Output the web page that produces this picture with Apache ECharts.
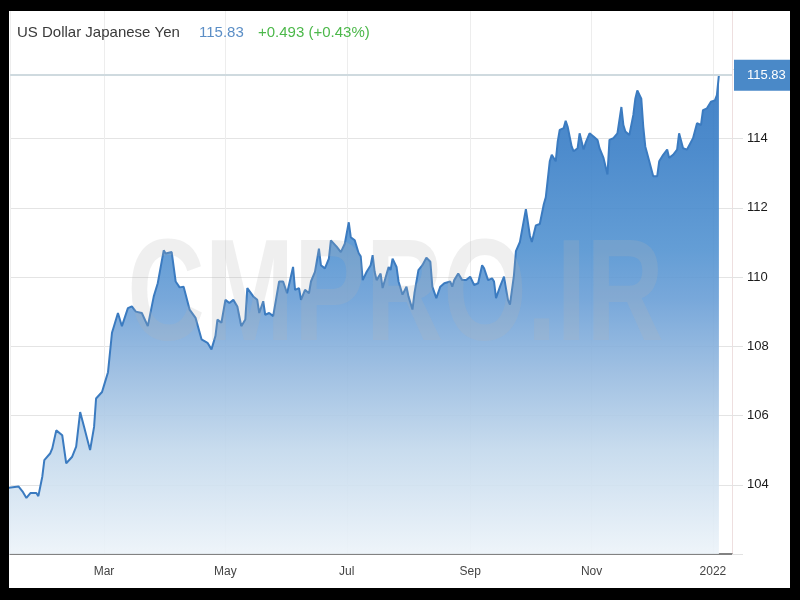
<!DOCTYPE html>
<html>
<head>
<meta charset="utf-8">
<script src="https://cdn.jsdelivr.net/npm/echarts@6/dist/echarts.min.js"></script>
<style>
  html, body { margin: 0; padding: 0; background: #000; }
  #chart { width: 800px; height: 600px; }
</style>
</head>
<body>
<div id="chart"></div>
<script>
// ---- data ----
const dates = [
  '2021-01-12','2021-01-17','2021-01-19','2021-01-21','2021-01-23','2021-01-24','2021-01-26','2021-01-27','2021-01-29','2021-01-30',
  '2021-02-02','2021-02-03','2021-02-05','2021-02-08','2021-02-10','2021-02-13','2021-02-15','2021-02-17','2021-02-19','2021-02-22',
  '2021-02-24','2021-02-25','2021-02-28','2021-03-01','2021-03-03','2021-03-05','2021-03-06','2021-03-08','2021-03-10','2021-03-11',
  '2021-03-13','2021-03-15','2021-03-17','2021-03-20','2021-03-23','2021-03-26','2021-03-28','2021-03-31','2021-04-01','2021-04-04',
  '2021-04-06','2021-04-08','2021-04-10','2021-04-13','2021-04-16','2021-04-17','2021-04-19','2021-04-22','2021-04-24','2021-04-26',
  '2021-04-27','2021-04-29','2021-05-01','2021-05-03','2021-05-05','2021-05-07','2021-05-09','2021-05-11','2021-05-12','2021-05-15',
  '2021-05-17','2021-05-18','2021-05-20','2021-05-21','2021-05-23','2021-05-25','2021-05-28','2021-05-30','2021-06-01','2021-06-02',
  '2021-06-04','2021-06-05','2021-06-07','2021-06-08','2021-06-10','2021-06-12','2021-06-13','2021-06-15','2021-06-17','2021-06-18',
  '2021-06-20','2021-06-22','2021-06-23','2021-06-26','2021-06-28','2021-06-30','2021-07-02','2021-07-03','2021-07-05','2021-07-07',
  '2021-07-08','2021-07-09','2021-07-11','2021-07-13','2021-07-14','2021-07-15','2021-07-16','2021-07-18','2021-07-19','2021-07-20',
  '2021-07-22','2021-07-23','2021-07-24','2021-07-26','2021-07-27','2021-07-29','2021-07-31','2021-08-01','2021-08-03','2021-08-04',
  '2021-08-06','2021-08-08','2021-08-10','2021-08-12','2021-08-13','2021-08-15','2021-08-17','2021-08-19','2021-08-22','2021-08-23',
  '2021-08-24','2021-08-26','2021-08-28','2021-08-30','2021-09-01','2021-09-03','2021-09-05','2021-09-07','2021-09-08','2021-09-10',
  '2021-09-12','2021-09-13','2021-09-14','2021-09-16','2021-09-18','2021-09-20','2021-09-21','2021-09-23','2021-09-24','2021-09-26',
  '2021-09-29','2021-10-01','2021-10-02','2021-10-04','2021-10-06','2021-10-08','2021-10-09','2021-10-11','2021-10-12','2021-10-14',
  '2021-10-15','2021-10-16','2021-10-18','2021-10-19','2021-10-20','2021-10-22','2021-10-23','2021-10-25','2021-10-26','2021-10-28',
  '2021-10-29','2021-10-31','2021-11-02','2021-11-04','2021-11-05','2021-11-07','2021-11-09','2021-11-10','2021-11-12','2021-11-14',
  '2021-11-16','2021-11-17','2021-11-18','2021-11-20','2021-11-22','2021-11-23','2021-11-24','2021-11-26','2021-11-27','2021-11-28',
  '2021-11-29','2021-11-30','2021-12-02','2021-12-04','2021-12-05','2021-12-07','2021-12-09','2021-12-10','2021-12-12','2021-12-14',
  '2021-12-15','2021-12-17','2021-12-19','2021-12-20','2021-12-22','2021-12-24','2021-12-26','2021-12-27','2021-12-29','2021-12-31',
  '2022-01-02','2022-01-03','2022-01-04'
];
const rates = [
  103.91,103.95,103.81,103.62,103.76,103.81,103.76,103.67,104.24,104.71,
  104.91,105.05,105.57,105.43,104.62,104.81,105.10,106.10,105.67,105.00,
  105.67,106.49,106.68,106.87,107.25,108.39,108.58,108.96,108.58,108.53,
  109.10,109.15,109.00,108.96,108.58,109.44,109.82,110.77,110.68,110.72,
  109.87,109.70,109.72,109.06,108.82,108.77,108.20,108.10,107.91,108.30,
  108.77,108.68,109.34,109.25,109.34,109.15,108.58,108.77,109.68,109.44,
  109.34,108.96,109.30,108.91,108.96,108.87,109.87,109.87,109.53,109.58,
  110.29,109.63,109.68,109.34,109.63,109.53,109.87,110.15,110.82,110.34,
  110.25,110.53,111.06,110.87,110.72,110.96,111.58,111.15,111.06,110.68,
  110.60,109.91,110.15,110.34,110.63,110.15,109.91,110.10,109.68,109.63,
  110.29,110.20,110.53,110.29,109.87,109.49,109.72,109.44,109.06,109.53,
  110.20,110.34,110.56,110.44,109.72,109.39,109.72,109.82,109.87,109.72,
  109.91,110.10,109.91,109.91,110.01,109.77,109.82,110.34,110.25,109.91,
  109.96,109.87,109.39,109.72,110.01,109.34,109.20,110.05,110.75,111.01,
  111.96,111.20,111.01,111.49,111.53,112.10,112.30,113.34,113.53,113.34,
  113.91,114.25,114.30,114.51,114.34,113.77,113.63,113.72,114.15,113.68,
  113.87,114.15,114.06,113.96,113.72,113.44,112.96,113.96,114.01,114.15,
  114.91,114.39,114.20,114.10,114.68,115.15,115.39,115.15,114.34,113.77,
  113.72,113.34,112.91,112.91,113.34,113.53,113.68,113.44,113.53,113.68,
  114.15,113.72,113.68,113.68,114.01,114.44,114.39,114.82,114.87,115.06,
  115.10,115.25,115.83
];
const yTickLabels = [104, 106, 108, 110, 112, 114];
const monthLabels = ['Jan','Feb','Mar','Apr','May','Jun','Jul','Aug','Sep','Oct','Nov','Dec'];
const titleName = 'US Dollar Japanese Yen';
const lastPrice = 115.83;
const changeText = '+0.493 (+0.43%)';
const watermark = 'CMPRO.IR';

// ---- chart ----
const FONT = '"Liberation Sans", Arial, sans-serif';
const chart = echarts.init(document.getElementById('chart'), null, { renderer: 'canvas' });
const seriesData = dates.map((d, i) => [d, rates[i]]);

const Y_MIN = 102, Y_MAX = 118, Y_INT = 2;
const splitColors = [];
for (let v = Y_MIN; v <= Y_MAX; v += Y_INT) {
  splitColors.push(yTickLabels.indexOf(v) >= 0 ? '#e4e4e4' : 'rgba(0,0,0,0)');
}

const option = {
  animation: false,
  backgroundColor: '#ffffff',
  textStyle: { fontFamily: FONT },
  grid: { left: 10, right: 68, top: -2, bottom: 46 },
  xAxis: {
    type: 'time',
    min: '2021-01-12 18:00:00',
    max: '2022-01-10 14:00:00',
    splitNumber: 5,
    axisLine: { show: true, lineStyle: { color: '#5a5a5a', width: 1.5 } },
    axisTick: { show: false },
    axisLabel: {
      color: '#444', fontSize: 12, fontFamily: FONT, margin: 12,
      showMinLabel: false, showMaxLabel: false,
      formatter: function (val) {
        const d = new Date(val);
        return d.getMonth() === 0 ? String(d.getFullYear()) : monthLabels[d.getMonth()];
      }
    },
    splitLine: { show: true, lineStyle: { color: '#ededed', width: 1 } }
  },
  yAxis: {
    type: 'value',
    position: 'right',
    min: Y_MIN, max: Y_MAX, interval: Y_INT,
    axisLine: { show: true, lineStyle: { color: '#eedfdf', width: 1 } },
    axisTick: { show: true, length: 11, lineStyle: { color: '#e2e2e2' } },
    axisLabel: {
      color: '#1a1a1a', fontSize: 13, fontFamily: FONT, margin: 15,
      formatter: function (v) { return yTickLabels.indexOf(v) >= 0 ? String(v) : ''; }
    },
    splitLine: { show: true, lineStyle: { color: splitColors, width: 1 } }
  },
  series: [{
    type: 'line',
    data: seriesData,
    symbol: 'none',
    showSymbol: false,
    clip: true,
    lineStyle: { color: '#3b7bc0', width: 2 },
    itemStyle: { color: '#3b7bc0' },
    areaStyle: {
      opacity: 1,
      color: new echarts.graphic.LinearGradient(0, 73, 0, 553, [
        { offset: 0, color: 'rgba(47,116,192,0.9)' },
        { offset: 0.16, color: 'rgba(58,127,199,0.9)' },
        { offset: 0.37, color: 'rgba(83,147,209,0.9)' },
        { offset: 0.47, color: 'rgba(105,158,214,0.9)' },
        { offset: 0.62, color: 'rgba(149,185,223,0.9)' },
        { offset: 0.785, color: 'rgba(194,216,236,0.9)' },
        { offset: 1, color: 'rgba(236,243,249,0.9)' }
      ], true)
    },
    markLine: {
      silent: true,
      symbol: ['none', 'none'],
      lineStyle: { color: '#cfdadf', width: 2, type: 'solid' },
      label: {
        show: true,
        position: 'end',
        distance: 2,
        formatter: function () { return lastPrice.toFixed(2); },
        backgroundColor: '#4a89c8',
        color: '#ffffff',
        fontSize: 13,
        fontFamily: FONT,
        padding: [9, 13, 9, 13]
      },
      data: [{ yAxis: lastPrice }]
    }
  }],
  graphic: [
    {
      type: 'text', x: 395.5, y: 300, z: 50, scaleX: 0.74,
      silent: true,
      style: {
        text: watermark, fontSize: 145, fontWeight: 'bold', fontFamily: FONT,
        fill: 'rgba(178,178,178,0.21)', align: 'center', verticalAlign: 'middle'
      }
    },
    {
      type: 'text', x: 17, y: 33, z: 60,
      style: { text: titleName, fontSize: 15, fontFamily: FONT, fill: '#3a3a3a', verticalAlign: 'middle' }
    },
    {
      type: 'text', x: 199, y: 33, z: 60,
      style: { text: lastPrice.toFixed(2), fontSize: 15, fontFamily: FONT, fill: '#5b8ec6', verticalAlign: 'middle' }
    },
    {
      type: 'text', x: 258, y: 33, z: 60,
      style: { text: changeText, fontSize: 15, fontFamily: FONT, fill: '#4cb84a', verticalAlign: 'middle' }
    },
    // black frame
    { type: 'rect', z: 100, silent: true, shape: { x: 0, y: 0, width: 800, height: 11 }, style: { fill: '#000' } },
    { type: 'rect', z: 100, silent: true, shape: { x: 0, y: 588, width: 800, height: 12 }, style: { fill: '#000' } },
    { type: 'rect', z: 100, silent: true, shape: { x: 0, y: 0, width: 9, height: 600 }, style: { fill: '#000' } },
    { type: 'rect', z: 100, silent: true, shape: { x: 790, y: 0, width: 10, height: 600 }, style: { fill: '#000' } }
  ]
};
chart.setOption(option);
</script>
</body>
</html>
